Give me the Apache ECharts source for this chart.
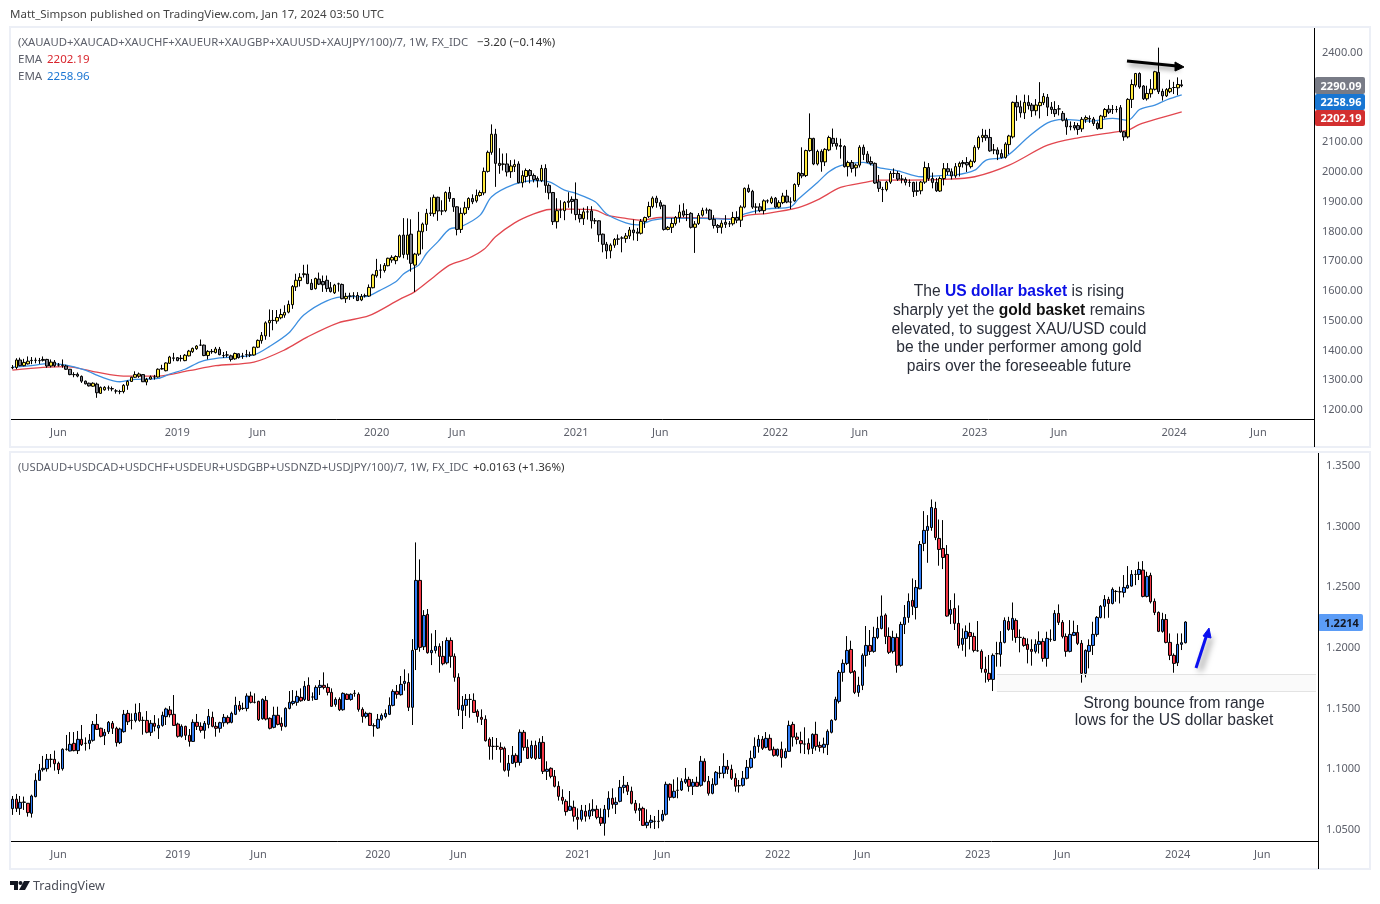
<!DOCTYPE html>
<html>
<head>
<meta charset="utf-8">
<title>Gold basket vs US dollar basket</title>
<script src="https://cdn.jsdelivr.net/npm/echarts@6/dist/echarts.min.js"></script>
<style>
html,body{margin:0;padding:0;background:#fff;}
#chart{width:1380px;height:904px;}
</style>
</head>
<body>
<div id="chart"></div>
<script>
// weekly bars, each row is open, close, low, high
var goldBars2018 = [
[1342,1343,1337,1351],[1343,1368,1337,1374],[1368,1349,1347,1376],[1349,1360,1347,1372],[1355,1364,1353,1380],[1366,1367,1354,1378],[1367,1367,1357,1376],[1366,1366,1355,1375],[1370,1367,1363,1380],[1370,1348,1342,1372],
[1348,1361,1343,1370],[1361,1349,1344,1368],[1351,1351,1346,1358],[1351,1350,1342,1370],[1348,1337,1335,1352],[1337,1319,1317,1338],[1319,1319,1310,1327],[1320,1314,1310,1326],[1313,1297,1291,1316],[1297,1288,1286,1299],
[1290,1281,1279,1292],[1280,1290,1278,1293],[1287,1258,1241,1292],[1256,1276,1254,1279],[1268,1276,1265,1280],[1274,1274,1265,1282],[1272,1271,1263,1279],[1264,1264,1255,1270],[1262,1262,1253,1268],[1262,1283,1256,1287],
[1283,1296,1268,1300],[1296,1310,1294,1312],[1310,1319,1308,1330],[1314,1321,1308,1326],[1319,1295,1294,1321],[1294,1303,1283,1308],[1304,1311,1302,1316],[1311,1311,1302,1318],[1311,1337,1309,1340],[1338,1339,1336,1352],
[1332,1358,1330,1360],[1357,1378,1355,1382],[1375,1374,1364,1392],[1376,1366,1364,1378],[1373,1374,1363,1385],[1366,1384,1364,1388],[1382,1398,1380,1402],[1396,1407,1392,1410],[1406,1415,1402,1418],[1418,1418,1416,1437],
[1418,1383,1381,1420],[1383,1397,1370,1401],[1396,1397,1389,1405],[1393,1405,1390,1412],[1404,1386,1384,1412],[1383,1383,1375,1395],[1385,1385,1377,1398],[1382,1370,1363,1386],[1372,1390,1369,1393],[1389,1376,1373,1390],
[1381,1381,1372,1392],[1386,1386,1377,1402],[1385,1385,1378,1396],[1385,1411,1383,1413],[1411,1434,1408,1437],[1433,1451,1423,1462],[1449,1493,1436,1498],[1493,1501,1446,1538],[1501,1501,1468,1536],[1499,1511,1490,1536],
[1510,1521,1505,1540],[1519,1528,1510,1552],[1529,1555,1525,1568],[1554,1615,1540,1620],[1614,1636,1600,1658],[1635,1646,1615,1660],[1655,1658,1645,1688],[1657,1625,1623,1689],[1626,1605,1603,1640],[1608,1642,1605,1645],
[1640,1623,1620,1662],[1632,1621,1597,1652],[1636,1608,1597,1652],[1611,1598,1595,1630],[1594,1620,1590,1624],[1624,1624,1598,1628],[1622,1574,1572,1625],[1574,1582,1560,1594],[1583,1583,1570,1594],[1584,1584,1573,1596],
[1585,1568,1566,1596],[1570,1582,1566,1590],[1584,1584,1578,1591],[1583,1612,1580,1622],[1611,1654,1609,1658],[1651,1669,1645,1708],[1670,1670,1643,1690],[1669,1686,1662,1694],[1685,1710,1683,1712],[1704,1713,1695,1720],
[1702,1716,1690,1720],[1715,1786,1712,1790]
];
var goldBars2020 = [
[1788,1723,1710,1845],[1723,1788,1705,1844],[1791,1693,1665,1841],[1687,1724,1597,1728],[1724,1801,1718,1866],[1799,1825,1740,1830],[1824,1861,1802,1876],[1861,1862,1852,1915],[1860,1915,1850,1924],[1915,1869,1836,1917],
[1869,1869,1855,1905],[1870,1931,1865,1935],[1931,1911,1900,1950],[1911,1883,1866,1912],[1883,1807,1787,1885],[1807,1861,1795,1880],[1861,1880,1855,1900],[1880,1911,1872,1915],[1911,1900,1892,1925],[1903,1921,1897,1941],
[1921,1931,1917,1938],[1930,2002,1922,2015],[2002,2066,1998,2072],[2066,2127,2058,2160],[2127,2029,1950,2145],[2029,2022,1994,2080],[2026,2027,2005,2062],[2027,2000,1985,2063],[2001,2020,1980,2040],[2018,2025,2000,2042],
[2027,1964,1962,2036],[1964,1988,1948,2005],[1985,2005,1965,2012],[2005,1988,1962,2010],[1988,1975,1965,1995],[1978,1971,1948,1985],[1971,2012,1966,2024],[2012,1955,1930,2026],[1955,1930,1908,1962],[1931,1833,1822,1933],
[1833,1870,1810,1912],[1872,1872,1845,1905],[1870,1898,1838,1902],[1898,1902,1880,1932],[1908,1901,1860,1918],[1908,1857,1838,1965],[1857,1843,1830,1875],[1843,1866,1822,1880],[1866,1866,1840,1885],[1869,1836,1810,1885],
[1836,1836,1825,1845],[1836,1789,1765,1838],[1791,1757,1730,1793],[1757,1735,1708,1765],[1735,1754,1710,1760],[1754,1773,1745,1778],[1774,1775,1755,1790],[1778,1778,1730,1784],[1776,1785,1762,1795],[1785,1805,1775,1815],
[1805,1796,1770,1840],[1798,1794,1768,1812],[1794,1834,1790,1842],[1834,1847,1812,1850],[1850,1884,1845,1900],[1884,1912,1878,1918],[1912,1897,1880,1920],[1897,1885,1875,1905],[1888,1807,1803,1890],[1807,1814,1804,1818],
[1814,1827,1795,1845],[1827,1847,1820,1852],[1847,1865,1830,1890],[1869,1855,1848,1895],[1857,1857,1835,1875],[1861,1814,1810,1865],[1814,1825,1728,1835],[1827,1854,1822,1862],[1855,1871,1850,1880],[1872,1872,1860,1880],
[1872,1841,1838,1876],[1841,1820,1810,1855],[1820,1814,1795,1825],[1814,1828,1793,1838],[1831,1824,1812,1855],[1826,1826,1815,1835],[1826,1847,1820,1866],[1847,1838,1828,1868],[1838,1882,1815,1888],[1882,1945,1878,1948],
[1945,1934,1930,1958],[1935,1882,1876,1940],[1882,1882,1860,1895],[1883,1870,1865,1895],[1870,1903,1858,1908],[1903,1903,1895,1908],[1897,1912,1892,1918],[1912,1882,1878,1916],[1882,1897,1878,1905],[1897,1919,1892,1930],
[1919,1899,1895,1940],[1899,1899,1875,1915],[1903,1958,1900,1962],[1958,1997,1950,2000]
];
var goldBars2022 = [
[1995,1987,1979,2083],[1988,2072,1983,2075],[2072,2113,2068,2197],[2113,2027,2023,2115],[2027,2069,2022,2075],[2069,2034,2001,2076],[2034,2076,2020,2080],[2074,2116,2070,2122],[2113,2096,2085,2146],[2096,2087,2075,2115],
[2089,2086,2045,2112],[2086,2018,2015,2090],[2018,2032,1985,2038],[2032,2012,1998,2040],[2014,2023,1985,2028],[2023,2083,2015,2090],[2083,2059,2040,2092],[2060,2033,2030,2070],[2035,2028,2022,2052],[2029,1963,1960,2032],
[1967,1945,1933,1990],[1941,1941,1899,1950],[1941,1966,1935,1970],[1966,1995,1960,2003],[1995,1995,1980,2012],[1995,1976,1970,2003],[1976,1976,1962,1990],[1975,1965,1955,1982],[1965,1965,1950,1975],[1965,1934,1916,1967],
[1937,1935,1920,1968],[1937,1966,1925,1970],[1966,2015,1960,2035],[2015,1978,1970,2030],[1978,1965,1945,1998],[1965,1937,1933,1980],[1936,1978,1933,1985],[1978,2011,1955,2030],[2011,2001,1990,2030],[2001,1987,1975,2012],
[1987,2018,1980,2030],[2018,2029,1985,2035],[2032,2028,2015,2040],[2032,2024,2000,2050],[2018,2036,2012,2042],[2035,2083,2030,2090],[2082,2116,2075,2122],[2116,2123,2100,2145],[2123,2115,2105,2142],[2116,2071,2068,2145],
[2074,2074,2060,2094],[2074,2060,2040,2083],[2062,2049,2045,2076],[2049,2094,2045,2100],[2092,2121,2060,2125],[2118,2234,2113,2237],[2234,2219,2172,2258],[2219,2199,2183,2240],[2199,2234,2178,2260],[2234,2223,2210,2258],
[2225,2206,2185,2232],[2206,2225,2190,2245],[2223,2234,2180,2302],[2233,2254,2225,2265],[2251,2218,2188,2262],[2218,2210,2195,2235],[2210,2196,2185,2238],[2212,2212,2190,2225],[2197,2174,2170,2205],[2174,2152,2125,2182],
[2154,2152,2140,2170],[2156,2148,2140,2168],[2156,2143,2125,2165],[2145,2177,2135,2185],[2177,2183,2165,2190],[2180,2178,2165,2190],[2178,2163,2155,2185],[2163,2146,2142,2170],[2146,2188,2144,2192],[2186,2210,2180,2215],
[2211,2201,2195,2225],[2210,2210,2195,2225],[2210,2210,2200,2222],[2216,2135,2132,2225],[2135,2118,2105,2138],[2118,2244,2113,2248],[2244,2294,2215,2311],[2292,2331,2285,2333],[2331,2286,2280,2335],[2289,2246,2242,2292],
[2246,2264,2240,2290],[2263,2279,2250,2312],[2278,2337,2274,2340],[2335,2270,2262,2418],[2271,2256,2240,2280],[2256,2277,2252,2282],[2270,2281,2265,2310],[2284,2284,2262,2303],[2283,2294,2258,2318],[2293,2290.09,2285,2310]
];
// ema lines: week number, value
var emaBlue = [[0,1344],[6,1351],[9,1356],[14,1351],[19,1334],[23,1312],[28,1295],[32,1303],[38,1306],[41,1321],[45,1337],[49,1362],[54,1375],[58,1378],[63,1385],[67,1413],[72,1458],[76,1519],[82,1567],[87,1581],[92,1581],[96,1603],[100,1631],[102,1657],[104,1673],[106,1687],[108,1726],[111,1766],[114,1808],[117,1816],[122,1855],[125,1917],[131,1959],[136,1971],[140,1967],[144,1939],[147,1928],[152,1900],[155,1859],[160,1829],[163,1822],[167,1838],[171,1844],[180,1844],[188,1841],[191,1859],[197,1876],[203,1883],[205,1909],[210,1965],[213,2001],[216,2021],[222,2032],[226,2015],[231,2004],[237,1984],[242,1988],[246,1990],[251,2006],[254,2040],[259,2051],[265,2118],[270,2165],[274,2177],[281,2171],[287,2180],[291,2174],[294,2210],[298,2225],[301,2242],[305,2258.96]];
var emaRed = [[0,1334],[8,1343],[14,1346],[22,1327],[29,1314],[38,1314],[46,1332],[53,1349],[63,1361],[71,1402],[77,1446],[85,1493],[93,1517],[101,1572],[105,1598],[110,1648],[114,1687],[119,1710],[123,1740],[126,1782],[131,1829],[136,1859],[140,1874],[145,1875],[152,1872],[155,1855],[160,1844],[164,1838],[169,1847],[180,1846],[188,1842],[192,1855],[197,1861],[205,1880],[210,1906],[216,1948],[222,1964],[226,1973],[234,1973],[243,1975],[251,1984],[260,2023],[270,2090],[278,2115],[288,2135],[291,2141],[294,2160],[299,2180],[305,2202.19]];

// usd basket in 1/10000, same row order
var usdBars2018 = [
[10676,10753,10624,10780],[10753,10678,10648,10797],[10678,10728,10624,10780],[10728,10730,10665,10775],[10720,10643,10610,10722],[10637,10780,10602,10791],[10775,10909,10769,10967],[10909,10992,10906,11044],[10997,11008,10981,11110],[11005,11082,10981,11126],
[11082,11082,11016,11126],[11082,11046,10989,11154],[11049,10997,10961,11063],[11005,11165,10989,11173],[11165,11165,11154,11283],[11151,11206,11148,11307],[11214,11154,11148,11307],[11154,11247,11126,11316],[11247,11203,11192,11365],[11214,11214,11154,11263],
[11214,11239,11165,11291],[11239,11370,11228,11398],[11370,11329,11324,11456],[11338,11272,11263,11343],[11277,11305,11200,11332],[11310,11387,11291,11398],[11379,11338,11291,11398],[11338,11220,11187,11351],[11220,11332,11208,11343],[11310,11453,11302,11489],
[11461,11392,11365,11489],[11403,11403,11329,11461],[11403,11461,11387,11541],[11469,11403,11392,11546],[11403,11403,11285,11434],[11403,11305,11296,11480],[11305,11379,11274,11406],[11379,11354,11313,11447],[11340,11362,11250,11420],[11362,11445,11351,11475],
[11434,11497,11365,11508],[11489,11450,11428,11521],[11453,11362,11357,11612],[11373,11272,11261,11384],[11272,11354,11261,11370],[11354,11280,11241,11359],[11280,11230,11187,11332],[11230,11387,11225,11412],[11387,11354,11324,11456],[11354,11321,11302,11387],
[11321,11379,11252,11398],[11370,11436,11338,11497],[11428,11354,11346,11475],[11354,11338,11269,11390],[11338,11384,11302,11392],[11384,11428,11351,11456],[11428,11384,11370,11445],[11387,11461,11379,11475],[11453,11527,11447,11598],[11527,11491,11475,11563],
[11502,11502,11489,11549],[11502,11604,11478,11626],[11604,11552,11543,11640],[11552,11552,11543,11626],[11560,11409,11398,11565],[11417,11576,11409,11585],[11568,11414,11403,11604],[11420,11338,11329,11428],[11346,11445,11338,11516],[11445,11370,11362,11516],
[11379,11354,11318,11428],[11354,11502,11346,11511],[11502,11552,11494,11645],[11543,11560,11527,11653],[11552,11601,11524,11648],[11593,11565,11557,11667],[11576,11684,11563,11727],[11692,11568,11563,11758],[11596,11596,11565,11634],[11576,11675,11571,11692],
[11675,11692,11612,11736],[11692,11675,11659,11799],[11675,11634,11609,11708],[11634,11519,11516,11667],[11535,11576,11516,11593],[11576,11491,11480,11593],[11491,11626,11483,11634],[11618,11576,11571,11626],[11576,11618,11565,11626],[11626,11626,11598,11653],
[11618,11494,11475,11634],[11494,11436,11384,11511],[11436,11461,11420,11475],[11461,11362,11357,11467],[11360,11358,11269,11379],[11340,11412,11332,11456],[11412,11445,11401,11461],[11434,11461,11420,11494],[11453,11527,11447,11593],[11527,11642,11519,11659],
[11642,11618,11582,11695]
];
var usdBars2020 = [
[11615,11700,11607,11769],[11708,11725,11648,11824],[11716,11511,11480,11791],[11511,11980,11365,12073],[11988,12557,11818,12870],[12557,12005,11969,12730],[12010,12268,11983,12312],[12277,11961,11953,12321],[11961,11980,11859,12120],[11980,12013,11955,12148],
[12013,11931,11796,12038],[11931,11870,11857,12057],[11878,12062,11865,12087],[12062,11931,11837,12087],[11931,11758,11722,11955],[11758,11494,11439,11791],[11486,11527,11332,11604],[11527,11576,11439,11620],[11576,11576,11425,11620],[11568,11469,11467,11626],
[11478,11436,11384,11494],[11428,11412,11365,11494],[11412,11236,11228,11445],[11247,11189,11079,11263],[11189,11189,11079,11266],[11189,11189,11159,11258],[11181,11165,11055,11222],[11173,10992,10981,11187],[10992,11049,10939,11118],[11049,11115,11044,11192],
[11115,11057,11016,11132],[11057,11305,11030,11329],[11305,11181,11154,11324],[11181,11090,11085,11247],[11096,11197,11085,11236],[11197,11090,11077,11236],[11090,11222,11085,11255],[11222,10983,10961,11274],[10983,11000,10912,11066],[11008,10942,10926,11016],
[10942,10860,10851,10994],[10860,10777,10742,10901],[10769,10744,10711,10835],[10736,10651,10618,10753],[10662,10695,10657,10821],[10687,10613,10569,10742],[10604,10588,10503,10678],[10588,10662,10569,10706],[10654,10613,10569,10706],[10613,10662,10588,10720],
[10657,10670,10615,10753],[10670,10604,10588,10703],[10604,10555,10533,10678],[10555,10670,10453,10706],[10670,10761,10604,10819],[10761,10711,10676,10843],[10711,10728,10632,10769],[10736,10851,10728,10912],[10851,10868,10802,10945],[10868,10819,10788,10895],
[10819,10720,10711,10857],[10720,10662,10637,10747],[10662,10678,10574,10720],[10678,10538,10533,10692],[10538,10563,10514,10670],[10563,10580,10514,10624],[10571,10571,10508,10615],[10571,10571,10514,10665],[10580,10629,10569,10665],[10629,10876,10618,10898],
[10876,10769,10742,10884],[10769,10819,10761,10917],[10827,10827,10761,10934],[10830,10901,10821,10926],[10893,10917,10879,11011],[10917,10860,10816,10939],[10860,10893,10788,10920],[10893,10860,10857,10939],[10868,11066,10857,11110],[11066,10901,10893,11090],
[10901,10802,10783,10945],[10802,10876,10794,10926],[10876,10975,10865,10986],[10967,10967,10926,11027],[10967,11024,10926,11132],[11024,11000,10961,11077],[11000,10926,10912,11038],[10926,10860,10816,10967],[10865,10865,10808,10912],[10868,10926,10857,10986],
[10926,11016,10917,11077],[11016,11090,11005,11154],[11096,11189,11088,11263],[11189,11247,11137,11283],[11247,11173,11159,11274],[11181,11255,11173,11307]
];
var usdBars2022 = [
[11255,11159,11154,11288],[11165,11115,11104,11187],[11115,11165,11104,11170],[11165,11096,11014,11228],[11096,11148,11088,11173],[11148,11362,11143,11401],[11370,11266,11187,11392],[11266,11247,11206,11302],[11236,11211,11132,11310],[11208,11208,11126,11346],
[11214,11165,11123,11255],[11173,11288,11126,11296],[11288,11189,11154,11392],[11197,11181,11145,11228],[11181,11206,11132,11261],[11203,11313,11118,11329],[11305,11403,11296,11412],[11409,11576,11401,11598],[11560,11799,11543,11818],[11799,11873,11722,11906],
[11873,11980,11859,12098],[11988,11799,11788,12060],[11807,11634,11620,11818],[11634,11692,11598,11763],[11692,11939,11653,11955],[11939,12021,11846,12181],[12021,11972,11942,12148],[11972,12087,11961,12175],[12087,12161,12073,12257],[12161,12263,12153,12433],
[12271,12095,12032,12285],[12095,11964,11950,12170],[11972,12087,11955,12142],[12087,11857,11796,12120],[11857,12194,11846,12216],[12194,12252,12115,12354],[12252,12384,12208,12450],[12392,12343,12271,12573],[12334,12499,12235,12560],[12488,12853,12483,12881],
[12862,12969,12798,13128],[12969,13002,12702,13095],[12993,13158,12966,13224],[13150,12911,12889,13205],[12903,12812,12678,13059],[12820,12746,12650,13054],[12771,12263,12257,12848],[12277,12318,12197,12395],[12326,12203,12148,12450],[12203,12021,11997,12351],
[12030,12079,11977,12161],[12079,12137,11928,12186],[12128,12095,11988,12208],[12095,11980,11964,12126],[11977,11977,11969,12222],[11972,11829,11796,11988],[11824,11799,11714,11928],[11791,11741,11722,11942],[11741,11939,11645,11955],[11953,11953,11846,12051],
[11947,12046,11846,12139],[12046,12227,12038,12252],[12219,12153,12142,12257],[12153,12244,12060,12375],[12227,12087,12043,12244],[12087,12087,11964,12153],[12079,12021,12010,12093],[12030,11988,11873,12079],[11988,11972,11854,12071],[11972,12030,11955,12071],
[12030,12054,11955,12137],[12054,11914,11887,12079],[11914,12079,11846,12134],[12071,12071,12051,12153],[12062,12285,12057,12312],[12285,12211,12189,12359],[12211,12095,12079,12230],[12095,11972,11928,12120],[11972,12112,11964,12230],[12104,12128,12098,12225],
[12128,12038,12024,12189],[12038,11791,11714,12065],[11791,11980,11758,11988],[11972,12021,11832,12071],[12021,12112,11942,12216],[12112,12252,12093,12263],[12252,12343,12244,12354],[12343,12400,12244,12436],[12400,12367,12249,12422],[12367,12483,12359,12499],
[12466,12466,12381,12477],[12463,12463,12367,12505],[12458,12499,12417,12601],[12494,12516,12488,12675],[12510,12606,12505,12642],[12606,12606,12518,12642],[12606,12647,12560,12711],[12642,12425,12417,12716],[12425,12590,12417,12628],[12598,12381,12367,12620],
[12384,12293,12271,12408],[12293,12137,12131,12301],[12137,12235,12126,12290],[12235,12046,12038,12279],[12046,11939,11900,12120],[11939,11873,11796,11955],[11878,12030,11851,12120],[12030,12043,11983,12120],[12043,12214,12038,12220]
];

var slotCount = 340;
var tickWeeks = [12,43,64,95,116,147,169,199,221,251,273,303,325];
var tickNames = ['Jun','2019','Jun','2020','Jun','2021','Jun','2022','Jun','2023','Jun','2024','Jun'];
// 2200 and 2300 sit under the last price tags in the reference
var goldTicks = [1200,1300,1400,1500,1600,1700,1800,1900,2000,2100,2400];
var usdTicks = [1.05,1.10,1.15,1.20,1.25,1.30,1.35];

var goldBars = goldBars2018.concat(goldBars2020, goldBars2022);
var usdBars = usdBars2018.concat(usdBars2020, usdBars2022).map(function(r){
	return r.map(function(v){ return v / 10000; });
});

var weeks = [];
for(var i=0;i<slotCount;i++){
	weeks.push('');
}
for(var i=0;i<tickWeeks.length;i++){
	weeks[tickWeeks[i]] = tickNames[i];
}

var uiFont = '"Noto Sans", sans-serif';
var noteFont = '"Liberation Sans", Arial, sans-serif';
var grey = '#5d606b';

var txt = function(x,y,s,color,extra){
	var style = {x:x,y:y,text:s,fill:color||grey,font:'11.5px '+uiFont,textVerticalAlign:'middle',textAlign:'left'};
	for(var k in extra){
		style[k] = extra[k];
	}
	return {type:'text',z:50,style:style};
};
var note = function(x,y,s,rich){
	return {type:'text',z:50,style:{x:x,y:y,text:s,fill:'#2a2e39',font:'15.6px '+noteFont,textAlign:'center',textVerticalAlign:'middle',rich:rich}};
};
var priceTag = function(x,y,w,h,bg,s,color){
	return {type:'group',z:60,children:[
		{type:'rect',shape:{x:x,y:y,width:w,height:h,r:2},style:{fill:bg}},
		{type:'text',style:{x:x+w/2+1,y:y+h/2+1,text:s,fill:color,font:'bold 11px '+uiFont,textAlign:'center',textVerticalAlign:'middle'}}
	]};
};
var box = function(x,y,w,h){
	return {type:'rect',z:1,shape:{x:x,y:y,width:w,height:h},style:{fill:'none',stroke:'#eceff6',lineWidth:2}};
};
var rich = {
	n:{font:'15.6px '+noteFont,fill:'#2a2e39'},
	blue:{font:'bold 15.6px '+noteFont,fill:'#0b10e6'},
	bold:{font:'bold 15.6px '+noteFont,fill:'#111'}
};

var graphics = [
	box(10,27,1360,420),
	box(10,452,1360,417),
	{type:'line',z:40,shape:{x1:1314.5,y1:419,x2:1314.5,y2:447},style:{stroke:'#000',lineWidth:1}},
	{type:'line',z:40,shape:{x1:1318.5,y1:841,x2:1318.5,y2:869},style:{stroke:'#000',lineWidth:1}},
	txt(10,15,'Matt_Simpson published on TradingView.com, Jan 17, 2024 03:50 UTC','#444'),
	txt(18,43,'(XAUAUD+XAUCAD+XAUCHF+XAUEUR+XAUGBP+XAUUSD+XAUJPY/100)/7, 1W, FX_IDC',grey,{font:'11.3px '+uiFont}),
	txt(477,43,'\u22123.20 (\u22120.14%)','#333'),
	txt(18,60,'EMA'),
	txt(47,60,'2202.19','#d9262e'),
	txt(18,77,'EMA'),
	txt(47,77,'2258.96','#1a75d2'),
	txt(18,468,'(USDAUD+USDCAD+USDCHF+USDEUR+USDGBP+USDNZD+USDJPY/100)/7, 1W, FX_IDC',grey,{font:'11.2px '+uiFont}),
	txt(473,468,'+0.0163 (+1.36%)','#333'),
	note(1019,292,'{n|The }{blue|US dollar basket}{n| is rising}',rich),
	note(1019,311,'{n|sharply yet the }{bold|gold basket}{n| remains}',rich),
	note(1019,330,'elevated, to suggest XAU/USD could'),
	note(1019,348,'be the under performer among gold'),
	note(1019,367,'pairs over the foreseeable future'),
	note(1174,704,'Strong bounce from range'),
	note(1174,721,'lows for the US dollar basket'),
	priceTag(1315,77,50,17,'#787b86','2290.09','#fff'),
	priceTag(1315,94,50,16,'#1976d2','2258.96','#fff'),
	priceTag(1315,110,50,16,'#d32f2f','2202.19','#fff'),
	priceTag(1318,614,45,17,'#5b9cf6','1.2214','#131722'),
	// black arrow
	{type:'line',z:45,shape:{x1:1127,y1:61,x2:1177,y2:66},style:{stroke:'#000',lineWidth:3,shadowBlur:5,shadowColor:'rgba(0,0,0,0.45)',shadowOffsetX:2,shadowOffsetY:3}},
	{type:'polygon',z:45,shape:{points:[[1184,67],[1175,62],[1175,71]]},style:{fill:'#000',stroke:'#000',lineWidth:1}},
	// blue arrow
	{type:'line',z:45,shape:{x1:1196,y1:668,x2:1207,y2:634},style:{stroke:'#0b10f0',lineWidth:3,shadowBlur:6,shadowColor:'rgba(0,0,0,0.5)',shadowOffsetX:4,shadowOffsetY:3}},
	{type:'polygon',z:45,shape:{points:[[1209,628],[1203,636],[1211,638]]},style:{fill:'#0b10f0',stroke:'#0b10f0',lineWidth:1}},
	// logo
	{type:'polygon',z:50,shape:{points:[[10,881],[18,881],[18,890],[14,890],[14,885],[10,885]]},style:{fill:'#131722'}},
	{type:'circle',z:50,shape:{cx:20.5,cy:883,r:2},style:{fill:'#131722'}},
	{type:'polygon',z:50,shape:{points:[[24,881],[30,881],[25,890],[19,890]]},style:{fill:'#131722'}},
	txt(33,886,'TradingView','#4c4f59',{font:'12.5px '+uiFont})
];

var xAxisFor = function(idx){
	return {
		type:'category',
		gridIndex:idx,
		data:weeks,
		boundaryGap:true,
		axisLine:{show:true,onZero:false,lineStyle:{color:'#000',width:1}},
		axisTick:{show:false},
		splitLine:{show:false},
		axisLabel:{interval:0,color:grey,fontSize:11,fontFamily:uiFont,margin:8,hideOverlap:false}
	};
};
var yAxisFor = function(idx,min,max,ticks,digits){
	return {
		type:'value',
		gridIndex:idx,
		position:'right',
		min:min,
		max:max,
		axisLine:{show:true,lineStyle:{color:'#000',width:1}},
		axisTick:{show:false},
		splitLine:{show:false},
		axisLabel:{
			customValues:ticks,
			color:grey,
			fontSize:11,
			fontFamily:uiFont,
			margin:8,
			padding:[4,0,0,0],
			formatter:function(v){ return Number(v).toFixed(digits); }
		}
	};
};
var candleStyle = function(up,down){
	return {color:up,color0:down,borderColor:'#000',borderColor0:'#000',borderColorDoji:'#000',borderWidth:1};
};

var chart = echarts.init(document.getElementById('chart'));
chart.setOption({
	animation:false,
	backgroundColor:'#fff',
	grid:[
		{left:10.5,top:28,width:1303.5,height:391},
		{left:10.5,top:453,width:1307.5,height:388}
	],
	xAxis:[xAxisFor(0),xAxisFor(1)],
	yAxis:[
		yAxisFor(0,1169.75,2484,goldTicks,2),
		yAxisFor(1,1.0409,1.3607,usdTicks,4)
	],
	series:[
		{type:'line',xAxisIndex:0,yAxisIndex:0,data:emaRed,showSymbol:false,smooth:0.3,lineStyle:{color:'#e2474f',width:1.3},z:1},
		{type:'line',xAxisIndex:0,yAxisIndex:0,data:emaBlue,showSymbol:false,smooth:0.3,lineStyle:{color:'#3d8fe0',width:1.3},z:1},
		{type:'candlestick',xAxisIndex:0,yAxisIndex:0,data:goldBars,barWidth:3,itemStyle:candleStyle('#ffeb3b','#787b86'),z:2},
		{type:'candlestick',xAxisIndex:1,yAxisIndex:1,data:usdBars,barWidth:3,itemStyle:candleStyle('#2f7cf6','#f23645'),z:2,
			markArea:{silent:true,itemStyle:{color:'#fafafa'},data:[[{xAxis:256,yAxis:1.1785},{xAxis:339,yAxis:1.1645}]]},
			markLine:{silent:true,symbol:'none',label:{show:false},lineStyle:{color:'#e3e3e3',width:1,type:'solid'},data:[
				[{xAxis:256,yAxis:1.1785},{xAxis:339,yAxis:1.1785}],
				[{xAxis:256,yAxis:1.1645},{xAxis:339,yAxis:1.1645}]
			]}
		}
	],
	graphic:graphics
});
</script>
</body>
</html>
